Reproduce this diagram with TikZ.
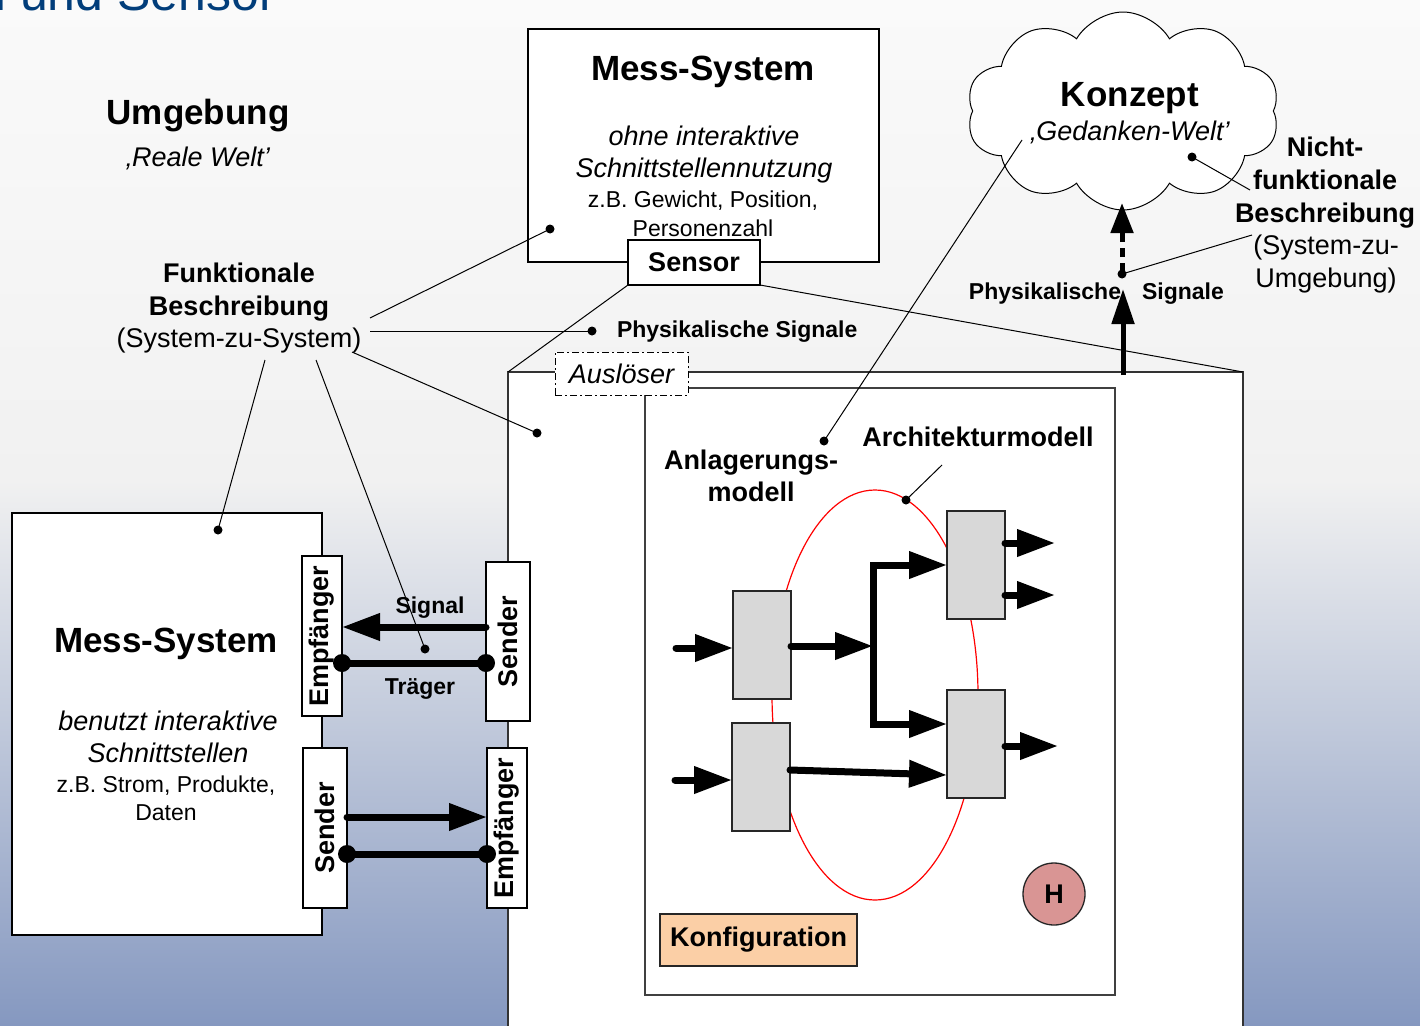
\documentclass[tikz,border=0pt]{standalone}
\usepackage{fontspec}
\setmainfont{Liberation Sans}
\usetikzlibrary{arrows.meta,shapes.symbols,shapes.geometric}

\definecolor{bgA}{HTML}{FAFAFA}
\definecolor{bgB}{HTML}{F1F1F1}
\definecolor{bgC}{HTML}{8598C0}
\definecolor{titleblue}{HTML}{013D7A}
\definecolor{greybox}{HTML}{D8D8D8}
\definecolor{konfig}{HTML}{FBCFA6}
\definecolor{hfill}{HTML}{D99594}

\begin{document}
\begin{tikzpicture}[x=1pt,y=-1pt,
  every node/.style={inner sep=0pt, outer sep=0pt},
  box/.style={draw=black, line width=1.3pt, fill=white},
  gbox/.style={draw=black!85, line width=1.3pt, fill=greybox, minimum width=58, minimum height=108},
  lead/.style={line width=1pt},
  dotn/.style={circle, fill=black, minimum size=9},
  bigdot/.style={circle, fill=black, minimum size=18},
  flow/.style={line width=7pt, line cap=round, -{Triangle[length=38pt,width=26pt]}},
  tBig/.style={font=\bfseries\fontsize{35}{40}\selectfont},
  tB/.style={font=\bfseries\fontsize{27}{32}\selectfont},
  tI/.style={font=\itshape\fontsize{27}{32}\selectfont},
  tR/.style={font=\fontsize{27}{32}\selectfont},
  tS/.style={font=\fontsize{23}{28}\selectfont},
  tSB/.style={font=\bfseries\fontsize{23}{28}\selectfont}
]
\useasboundingbox (0,0) rectangle (1420,1025);
\clip (0,0) rectangle (1420,1025);

% backdrop
\shade[top color=bgA, bottom color=bgB] (0,0) rectangle (1420,480);
\shade[top color=bgB, bottom color=bgC] (0,480) rectangle (1420,1026);

% slide heading, cut by the upper edge
\node[anchor=base east, text=titleblue, font=\fontsize{50}{60}\selectfont] (ttl) at (276,11) {Schnittstellen und Sensor};

% observed system with its architecture
\node[draw=black!80, line width=1.3pt, fill=white, minimum width=735, minimum height=720, anchor=north west] (sys) at (508,372) {};
\node[draw=black!75, line width=1.3pt, fill=white, minimum width=470, minimum height=607, anchor=north west] (inner) at (645,388) {};
\node[draw=black, line width=1pt, dash pattern=on 7pt off 3pt on 2pt off 3pt, fill=white, minimum width=133, minimum height=43, tI] (ausl) at (621.5,373.5) {Auslöser};

\node[ellipse, draw=red, line width=1.2pt, minimum width=206, minimum height=410] (arch) at (875,695) {};

\node[gbox] (b1) at (762,645) {};
\node[gbox] (b2) at (761,777) {};
\node[gbox] (b3) at (976,565) {};
\node[gbox] (b4) at (976,744) {};

\coordinate (in1) at (676,648);
\coordinate (in2) at (675,780);
\coordinate (jn) at (873,646);
\coordinate (jt) at (873,565);
\coordinate (jb) at (873,724);
\coordinate (o3a) at (1055,543);
\coordinate (o3b) at (1055,595);
\coordinate (o4) at (1058,746);

\draw[flow] (in1) -- (b1.west |- in1);
\draw[flow] (in2) -- (b2.west |- in2);
\draw[flow] (b1.east |- jn) -- (jn);
\draw[flow, line join=miter] (jn) -- (jt) -- (b3.west |- jt);
\draw[flow, line join=miter] (jn) -- (jb) -- (b4.west |- jb);
\draw[flow] ([yshift=7pt]b2.east) -- ([yshift=-31pt]b4.west);
\draw[flow] (b3.east |- o3a) -- (o3a);
\draw[flow] (b3.east |- o3b) -- (o3b);
\draw[flow] (b4.east |- o4) -- (o4);

\node[draw=black!85, line width=1.3pt, fill=konfig, minimum width=197, minimum height=52, tB] (konf) at (758.5,940) {Konfiguration};
\node[circle, draw=black!85, line width=1.3pt, fill=hfill, minimum size=62, tB] (hum) at (1054,894) {H};

\node[tB, anchor=base] (arcl) at (978,446) {Architekturmodell};
\node[tB, anchor=base] (anl1) at (751,469) {Anlagerungs-};
\node[tB, anchor=base] (anl2) at (751,501) {modell};

% measuring system without interactive use
\node[box, minimum width=351, minimum height=233] (ms1) at (703.5,145.5) {};
\node[tBig, anchor=base] (ms1a) at (703,81) {Mess-System};
\node[tI, anchor=base] (ms1b) at (704,145) {ohne interaktive};
\node[tI, anchor=base] (ms1c) at (704,177) {Schnittstellennutzung};
\node[tS, anchor=base] (ms1d) at (703,207) {z.B. Gewicht, Position,};
\node[tS, anchor=base] (ms1e) at (703,236) {Personenzahl};
\node[box, minimum width=132, minimum height=45, tB] (sensor) at (694,262.5) {Sensor};

\draw[lead] (sys.north west) -- (sensor.south west);
\draw[lead] (sensor.south east) -- (sys.north east);
\node[box, draw=none, fill=none, minimum width=133, minimum height=43] at (ausl) {};

% measuring system with interactive interfaces
\node[box, minimum width=310, minimum height=422] (ms2) at (167,724) {};
\node[tBig, anchor=base] (ms2a) at (166,652) {Mess-System};
\node[tI, anchor=base] (ms2b) at (168,730) {benutzt interaktive};
\node[tI, anchor=base] (ms2c) at (168,762) {Schnittstellen};
\node[tS, anchor=base] (ms2d) at (166,792) {z.B. Strom, Produkte,};
\node[tS, anchor=base] (ms2e) at (166,820) {Daten};

\node[box, minimum width=40, minimum height=160] (e1) at (322,636) {};
\node[tB, rotate=90] at (e1) {Empfänger};
\node[box, minimum width=44, minimum height=160] (s1) at (325,828) {};
\node[tB, rotate=90] at (s1) {Sender};
\node[box, minimum width=44, minimum height=159] (s2) at (508,641.5) {};
\node[tB, rotate=90] at (s2) {Sender};
\node[box, minimum width=40, minimum height=160] (e2) at (507,828) {};
\node[tB, rotate=90] at (e2) {Empfänger};

\coordinate (sig) at (400,627);
\coordinate (car) at (400,663);
\coordinate (dat) at (400,817);
\coordinate (car2) at (400,854);
\draw[flow] (s2.west |- sig) -- (e1.east |- sig);
\draw[line width=7pt] (e1.east |- car) -- (s2.west |- car);
\node[bigdot] (c1) at (e1.east |- car) {};
\node[bigdot] (c2) at (s2.west |- car) {};
\draw[flow] (s1.east |- dat) -- (e2.west |- dat);
\draw[line width=7pt] (s1.east |- car2) -- (e2.west |- car2);
\node[bigdot] (c3) at (s1.east |- car2) {};
\node[bigdot] (c4) at (e2.west |- car2) {};
\node[tSB, anchor=base] (sigl) at (430,613) {Signal};
\node[tSB, anchor=base] (carl) at (420,694) {Träger};

% environment labels
\node[tBig, anchor=base] (umg) at (198,124) {Umgebung};
\node[tI, anchor=base] (umg2) at (198,166) {‚Reale Welt’};
\node[tB, anchor=base] (fb1) at (239,282) {Funktionale};
\node[tB, anchor=base] (fb2) at (239,315) {Beschreibung};
\node[tR, anchor=base] (fb3) at (239,347) {(System-zu-System)};
\node[tSB, anchor=base west] (phys1) at (617,337) {Physikalische Signale};

% concept cloud
\node[cloud, draw=black, line width=1pt, fill=white, cloud puffs=10, cloud puff arc=120, cloud ignores aspect, minimum width=313, minimum height=198] (cloud) at (1123,111) {};
\node[tBig, anchor=base] (konz) at (1130,106) {Konzept};
\node[tI, anchor=base] (gw) at (1130,140) {‚Gedanken-Welt’};

\node[tB, anchor=base] (nf1) at (1325,156) {Nicht-};
\node[tB, anchor=base] (nf2) at (1325,189) {funktionale};
\node[tB, anchor=base] (nf3) at (1325,222) {Beschreibung};
\node[tR, anchor=base] (nf4) at (1326,254) {(System-zu-};
\node[tR, anchor=base] (nf5) at (1326,287) {Umgebung)};

\node[tSB, anchor=base] (ps1) at (1045,299) {Physikalische};
\node[tSB, anchor=base] (ps2) at (1183,299) {Signale};

% rising signals
\coordinate (up0) at (1123,375);
\coordinate (up1) at (1123,289);
\coordinate (up2) at (1122,272);
\coordinate (up3) at (1122,228);
\coordinate (up4) at (1122,203);
\draw[line width=5pt, -{Triangle[length=35pt,width=22pt]}] (up0) -- (up1);
\draw[line width=5pt, dash pattern=on 9pt off 6pt] (up2) -- (up3);
\draw[line width=5pt, -{Triangle[length=30pt,width=22pt]}] (up3) -- (up4);

% leader lines
\coordinate (f1) at (370,318);
\coordinate (f2) at (370,331);
\coordinate (f3) at (352,352);
\coordinate (f4) at (265,360);
\coordinate (f5) at (316,360);
\node[dotn] (d1) at (550,229) {};
\node[dotn] (d2) at (592,331) {};
\node[dotn] (d3) at (537,433) {};
\node[dotn] (d4) at (218,530) {};
\node[dotn] (d5) at (425,649) {};
\draw[lead] (f1) -- (d1.center);
\draw[lead] (f2) -- (d2.center);
\draw[lead] (f3) -- (d3.center);
\draw[lead] (f4) -- (d4.center);
\draw[lead] (f5) -- (d5.center);

\node[dotn] (d6) at (824,441) {};
\coordinate (g1) at (1022,140);
\draw[lead] (d6.center) -- (g1);
\node[dotn] (d7) at (906,500) {};
\coordinate (a1) at (942,465);
\draw[lead] (a1) -- (d7.center);
\node[dotn] (d8) at (1192,157) {};
\coordinate (n1) at (1250,190);
\draw[lead] (d8.center) -- (n1);
\node[dotn] (d9) at (1122,274) {};
\coordinate (n2) at (1252,235);
\draw[lead] (n2) -- (d9.center);
\end{tikzpicture}
\end{document}
